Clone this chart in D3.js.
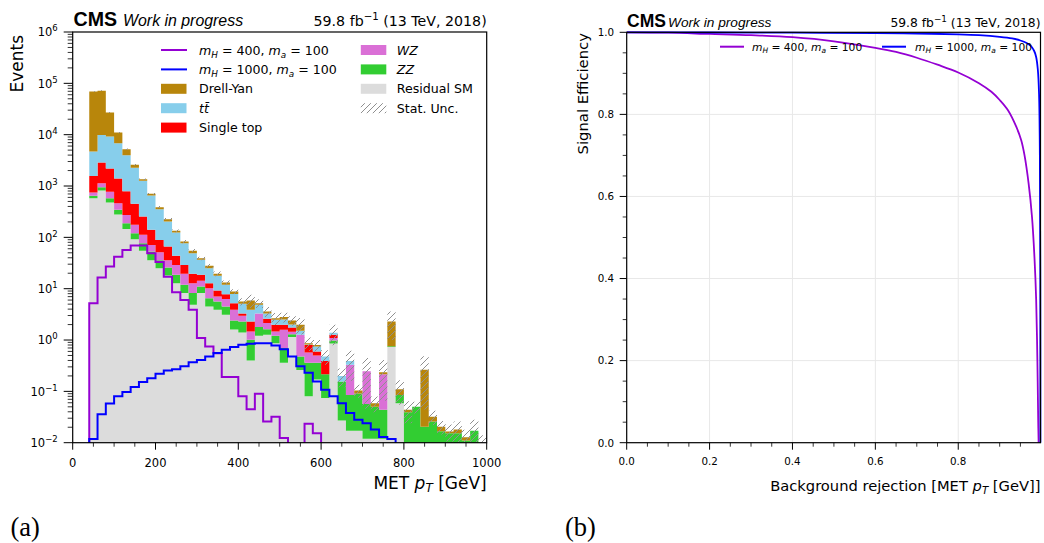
<!DOCTYPE html>
<html>
<head>
<meta charset="utf-8">
<script src="https://cdn.jsdelivr.net/npm/d3@7"></script>
<style>
  body { margin: 0; background: #fff; }
  svg { display: block; }
  text { font-family: "DejaVu Sans", sans-serif; fill: #000; }
</style>
</head>
<body>
<svg id="fig" width="1044" height="543"></svg>
<script>
// ---------------- MET pT histogram (20 GeV bins, 40-1000 GeV) ----------------
const binEdges = [40, 60, 80, 100, 120, 140, 160, 180, 200, 220, 240, 260, 280, 300, 320, 340,
  360, 380, 400, 420, 440, 460, 480, 500, 520, 540, 560, 580, 600, 620, 640, 660, 680, 700,
  720, 740, 760, 780, 800, 820, 840, 860, 880, 900, 920, 940, 960, 980, 1000];

// background processes, events per bin (stacked bottom -> top)
const residualSM = [580, 816, 477, 278, 146, 92, 55, 36, 25, 18, 12.8, 8.2, 4.85, 8.2, 4.5, 3.9,
  3.1, 1.6, 1.4, 0.4, 1.21, 1.26, 0.87, 0.36, 1.15, 0.26, 0.08, 0.17, 0.074, 0.86, 0.027, 0.017,
  0.017, 0.012, 0.012, 0.012, 0.73, 0.059, 0, 0, 0, 0, 0, 0, 0, 0, 0, 0];
const zz = [63, 133, 103, 65, 43, 28, 22, 17, 11, 8, 5.8, 3.7, 3.35, 2.8, 2.0, 1.7,
  1.4, 0.8, 0.9, 0.61, 0.58, 0.37, 0.34, 0.34, 0.15, 0.22, 0.28, 0.19, 0.141, 0.12, 0.129, 0.068,
  0.074, 0.045, 0.038, 0.032, 0.03, 0.026, 0.039, 0.05, 0.0204, 0.026, 0.0168, 0.0153, 0.0153, 0.011, 0.017, 0.008];
const wz = [102, 181, 189, 119, 85, 55, 35, 18, 15, 10, 10.4, 7.6, 4.6, 3.2, 3.7, 1.45,
  1.8, 1.5, 0.67, 0.46, 1.51, 0.51, 0.26, 0.88, 0.15, 0.79, 0.21, 0.14, 0, 0.12, 0, 0.245,
  0, 0.189, 0, 0.171, 0, 0, 0, 0, 0, 0, 0, 0, 0, 0, 0, 0];
const singleTop = [825, 1730, 1431, 938, 519, 274, 142, 69, 38, 30, 15, 9.5, 6.7, 4.4, 2.6, 2.15,
  1.5, 1.3, 0.33, 0.83, 0, 0.46, 0.51, 0.4, 0.3, 0, 0.23, 0.1, 0.175, 0.17, 0, 0,
  0, 0, 0, 0, 0, 0, 0, 0, 0, 0, 0, 0, 0, 0, 0, 0];
const ttbar = [3130, 7040, 7000, 5400, 3187, 1831, 1006, 511, 265, 137, 80, 48, 29.5, 17.9, 12.2, 8.6,
  4.1, 2.7, 1.8, 1.6, 1.55, 0.7, 0.5, 0.52, 0.25, 0.24, 0.02, 0.15, 0.09, 0.12, 0.044, 0.06,
  0, 0, 0, 0, 0, 0, 0, 0, 0, 0, 0, 0, 0, 0, 0, 0];
const drellYan = [64300, 62100, 17800, 4200, 1220, 320, 100, 52, 33, 23, 10, 6, 6, 2.5, 2.9, 1.7,
  1.3, 0.9, 0.5, 2.0, 0.35, 0.3, 0.19, 0.3, 0.4, 0.47, 0.05, 0.05, 0, 0, 0, 0,
  0.013, 0, 0.009, 0.021, 1.54, 0.025, 0.005, 0, 0.244, 0.006, 0.0036, 0.0013, 0.0027, 0.0018, 0, 0];
// statistical uncertainty on the total background
const statUnc = [900, 1000, 600, 300, 150, 80, 45, 25, 19, 11, 8, 6, 4, 3, 2.2, 2,
  1.3, 0.9, 0.9, 1.7, 1.0, 0.8, 0.7, 0.6, 0.5, 0.7, 0.25, 0.2, 0.15, 0.6, 0.08, 0.23,
  0.03, 0.2, 0.02, 0.17, 1.3, 0.055, 0.02, 0.013, 0.22, 0.01, 0.006, 0.006, 0.008, 0.005, 0.011, 0.006];

// signal hypotheses
const signalH400 = [5.2, 16.5, 27, 42, 57, 69, 69, 49, 33, 17, 8.5, 6.0, 3.9, 1.1, 0.75, 0.55,
  0.19, 0.19, 0.08, 0.045, 0.09, 0.026, 0.032, 0.0124, 0, 0, 0.0235, 0.0153, 0, 0, 0, 0,
  0, 0, 0, 0, 0, 0, 0, 0, 0, 0, 0, 0, 0, 0, 0, 0];
const signalH1000 = [0.0118, 0.036, 0.058, 0.080, 0.097, 0.121, 0.152, 0.18, 0.22, 0.256, 0.27, 0.31, 0.37, 0.41, 0.48, 0.56,
  0.65, 0.73, 0.81, 0.85, 0.87, 0.87, 0.78, 0.66, 0.48, 0.31, 0.23, 0.156, 0.108, 0.08, 0.059, 0.038,
  0.028, 0.024, 0.018, 0.0129, 0.0118, 0, 0, 0, 0, 0, 0, 0, 0, 0, 0, 0];

const xTicksMET = [0, 200, 400, 600, 800, 1000];
const yDecades = [-2, -1, 0, 1, 2, 3, 4, 5, 6];

// ---------------- signal efficiency vs background rejection ----------------
const rocRejH400 = [0, 0.1, 0.2, 0.3, 0.4, 0.5, 0.6, 0.65, 0.7, 0.75, 0.8, 0.85, 0.88, 0.9, 0.92,
  0.94, 0.952, 0.96, 0.97, 0.978, 0.984, 0.988, 0.991, 0.993, 0.994];
const rocEffH400 = [1.0, 0.999, 0.996, 0.993, 0.988, 0.978, 0.962, 0.952, 0.938, 0.921, 0.902, 0.876, 0.855, 0.835, 0.81,
  0.77, 0.737, 0.70, 0.63, 0.55, 0.45, 0.35, 0.2, 0.05, 0.0];
const rocRejH1000 = [0, 0.2, 0.4, 0.6, 0.7, 0.8, 0.85, 0.9, 0.93, 0.95, 0.965, 0.975, 0.983, 0.988,
  0.992, 0.995, 0.997, 0.998, 0.9983];
const rocEffH1000 = [1.0, 0.9995, 0.999, 0.998, 0.997, 0.995, 0.993, 0.989, 0.985, 0.98, 0.974, 0.967, 0.955, 0.94,
  0.91, 0.85, 0.7, 0.4, 0.0];
const rocTicks = [0, 0.2, 0.4, 0.6, 0.8];
const effTicks = [0, 0.2, 0.4, 0.6, 0.8, 1.0];

// ---------------- styling ----------------
const COLORS = {
  residual: "#dcdcdc", zz: "#32cd32", wz: "#da70d6", st: "#ff0000", tt: "#87ceeb", dy: "#b8860b",
  h400: "#9400d3", h1000: "#0000ff"
};

const svg = d3.select("#fig");
const defs = svg.append("defs");

// diagonal hatch for the statistical uncertainty band
const hatch = defs.append("pattern").attr("id", "hatch")
  .attr("patternUnits", "userSpaceOnUse").attr("width", 6).attr("height", 6);
hatch.append("path").attr("d", "M-1,1 l2,-2 M0,6 l6,-6 M5,7 l2,-2")
  .attr("stroke", "#8f8f8f").attr("stroke-width", 1);

// ================= panel (a) =================
const A = { x0: 72.7, x1: 486.7, y0: 32, y1: 442.7 };
const xA = d3.scaleLinear().domain([0, 1000]).range([A.x0, A.x1]);
const yA = d3.scaleLog().domain([1e-2, 1e6]).range([A.y1, A.y0]);
const FLOOR = 1e-6;
const nBins = binEdges.length - 1;

defs.append("clipPath").attr("id", "clipA").append("rect")
  .attr("x", A.x0).attr("y", A.y0).attr("width", A.x1 - A.x0).attr("height", A.y1 - A.y0);

const gA = svg.append("g");
const plotA = gA.append("g").attr("clip-path", "url(#clipA)");

const stepArea = d3.area().curve(d3.curveStepAfter)
  .x(d => xA(d.x))
  .y0(d => yA(Math.max(d.lo, FLOOR)))
  .y1(d => yA(Math.max(d.hi, FLOOR)));

const layers = [
  { values: residualSM, color: COLORS.residual },
  { values: zz, color: COLORS.zz },
  { values: wz, color: COLORS.wz },
  { values: singleTop, color: COLORS.st },
  { values: ttbar, color: COLORS.tt },
  { values: drellYan, color: COLORS.dy }
];

let base = new Array(nBins).fill(0);
layers.forEach(layer => {
  const top = base.map((b, i) => b + layer.values[i]);
  const pts = binEdges.map((e, i) => {
    const k = Math.min(i, nBins - 1);
    return { x: e, lo: base[k], hi: top[k] };
  });
  plotA.append("path").attr("d", stepArea(pts)).attr("fill", layer.color);
  base = top;
});
const totalBkg = base;

// uncertainty band
const uncPts = binEdges.map((e, i) => {
  const k = Math.min(i, nBins - 1);
  return { x: e, lo: totalBkg[k] - statUnc[k], hi: totalBkg[k] + statUnc[k] };
});
plotA.append("path").attr("d", stepArea(uncPts)).attr("fill", "url(#hatch)");

// signal step lines
const stepLine = d3.line().curve(d3.curveStepAfter)
  .x(d => xA(d.x)).y(d => yA(Math.max(d.v, FLOOR)));
function signalPoints(vals) {
  const p = [{ x: binEdges[0], v: 0 }];
  binEdges.forEach((e, i) => p.push({ x: e, v: vals[Math.min(i, nBins - 1)] }));
  return p;
}
[[signalH400, COLORS.h400], [signalH1000, COLORS.h1000]].forEach(([vals, c]) => {
  plotA.append("path").attr("d", stepLine(signalPoints(vals)))
    .attr("fill", "none").attr("stroke", c).attr("stroke-width", 2);
});

// frame
gA.append("rect").attr("x", A.x0).attr("y", A.y0).attr("width", A.x1 - A.x0).attr("height", A.y1 - A.y0)
  .attr("fill", "none").attr("stroke", "#000").attr("stroke-width", 1.2);

// x ticks
const MAJ = 7, MIN = 4;
xTicksMET.forEach(t => {
  gA.append("line").attr("x1", xA(t)).attr("x2", xA(t)).attr("y1", A.y1).attr("y2", A.y1 + MAJ)
    .attr("stroke", "#000").attr("stroke-width", 1);
  gA.append("text").attr("x", xA(t)).attr("y", A.y1 + 24.5).attr("text-anchor", "middle")
    .attr("font-size", 11.5).text(t);
});
[50, 100, 150, 250, 300, 350, 450, 500, 550, 650, 700, 750, 850, 900, 950].forEach(t => {
  gA.append("line").attr("x1", xA(t)).attr("x2", xA(t)).attr("y1", A.y1).attr("y2", A.y1 + MIN)
    .attr("stroke", "#000").attr("stroke-width", 0.8);
});

// y ticks (log)
yDecades.forEach(k => {
  const y = yA(Math.pow(10, k));
  gA.append("line").attr("x1", A.x0 - MAJ - 2).attr("x2", A.x0).attr("y1", y).attr("y2", y)
    .attr("stroke", "#000").attr("stroke-width", 1);
  const t = gA.append("text").attr("x", A.x0 - 15).attr("y", y + 4.3).attr("text-anchor", "end")
    .attr("font-size", 11.5);
  t.append("tspan").text("10");
  t.append("tspan").attr("dy", -5).attr("font-size", 8.5).text(String(k).replace("-", "\u2212"));
  if (k < 6) {
    for (let m = 2; m <= 9; m++) {
      const ym = yA(m * Math.pow(10, k));
      gA.append("line").attr("x1", A.x0 - MIN - 1).attr("x2", A.x0).attr("y1", ym).attr("y2", ym)
        .attr("stroke", "#000").attr("stroke-width", 0.8);
    }
  }
});

// axis titles
const xTitleA = gA.append("text").attr("x", A.x1).attr("y", 488.5).attr("text-anchor", "end").attr("font-size", 17);
xTitleA.append("tspan").text("MET ");
xTitleA.append("tspan").attr("font-style", "italic").text("p");
xTitleA.append("tspan").attr("font-size", 12).attr("font-style", "italic").attr("dy", 3.5).text("T");
xTitleA.append("tspan").attr("dy", -3.5).text(" [GeV]");

gA.append("text").attr("transform", "translate(23,35) rotate(-90)").attr("text-anchor", "end")
  .attr("font-size", 17).text("Events");

// header
function header(g, xLeft, xRight, base, s) {
  g.append("text").attr("x", xLeft).attr("y", base)
    .style("font-family", "'Liberation Sans', Arial, sans-serif").attr("font-weight", "bold")
    .attr("font-size", s.cms).text("CMS");
  g.append("text").attr("x", xLeft + s.gap).attr("y", base)
    .style("font-family", "'Liberation Sans', Arial, sans-serif").attr("font-style", "italic")
    .attr("font-size", s.wip).text("Work in progress");
  const lumi = g.append("text").attr("x", xRight).attr("y", base).attr("text-anchor", "end")
    .attr("font-size", s.lumi);
  lumi.append("tspan").text("59.8 fb");
  lumi.append("tspan").attr("dy", -s.lumi * 0.42).attr("font-size", s.lumi * 0.72).text("\u22121");
  lumi.append("tspan").attr("dy", s.lumi * 0.42).text(" (13 TeV, 2018)");
}
header(gA, 73.5, A.x1, 26.3, { cms: 19.6, wip: 15.9, lumi: 14.2, gap: 49.5 });

// legend
function mathLabel(sel, mass, fs) {
  sel.append("tspan").attr("font-style", "italic").text("m");
  sel.append("tspan").attr("font-size", fs * 0.7).attr("font-style", "italic").attr("dy", fs * 0.25).text("H");
  sel.append("tspan").attr("dy", -fs * 0.25).text(` = ${mass}, `);
  sel.append("tspan").attr("font-style", "italic").text("m");
  sel.append("tspan").attr("font-size", fs * 0.7).attr("font-style", "italic").attr("dy", fs * 0.25).text("a");
  sel.append("tspan").attr("dy", -fs * 0.25).text(" = 100");
}
const LFS = 12.6;
const legendA = [
  { col: 0, row: 0, kind: "line", color: COLORS.h400, label: s => mathLabel(s, 400, LFS) },
  { col: 0, row: 1, kind: "line", color: COLORS.h1000, label: s => mathLabel(s, 1000, LFS) },
  { col: 0, row: 2, kind: "patch", color: COLORS.dy, label: s => s.text("Drell-Yan") },
  { col: 0, row: 3, kind: "patch", color: COLORS.tt, label: s => s.append("tspan").attr("font-style", "italic").text("t\u0074\u0304") },
  { col: 0, row: 4, kind: "patch", color: COLORS.st, label: s => s.text("Single top") },
  { col: 1, row: 0, kind: "patch", color: COLORS.wz, label: s => s.append("tspan").attr("font-style", "italic").text("WZ") },
  { col: 1, row: 1, kind: "patch", color: COLORS.zz, label: s => s.append("tspan").attr("font-style", "italic").text("ZZ") },
  { col: 1, row: 2, kind: "patch", color: COLORS.residual, label: s => s.text("Residual SM") },
  { col: 1, row: 3, kind: "patch", color: "url(#hatch)", label: s => s.text("Stat. Unc.") }
];
const legColX = [161, 360.8], legTextX = [199, 396.8];
legendA.forEach(e => {
  const yc = 50 + e.row * 19.4;
  const x = legColX[e.col];
  if (e.kind === "line") {
    gA.append("line").attr("x1", x).attr("x2", x + 26).attr("y1", yc).attr("y2", yc)
      .attr("stroke", e.color).attr("stroke-width", 2);
  } else {
    gA.append("rect").attr("x", x).attr("y", yc - 5).attr("width", 25.5).attr("height", 10)
      .attr("fill", e.color);
  }
  const t = gA.append("text").attr("x", legTextX[e.col]).attr("y", yc + 4.6).attr("font-size", LFS);
  e.label(t);
});

svg.append("text").attr("x", 10.5).attr("y", 536).style("font-family", "'Liberation Serif', serif")
  .attr("font-size", 26.5).text("(a)");

// ================= panel (b) =================
const B = { x0: 626.7, x1: 1040.5, y0: 32.3, y1: 442.7 };
const xB = d3.scaleLinear().domain([0, 0.9985]).range([B.x0, B.x1]);
const yB = d3.scaleLinear().domain([0, 1]).range([B.y1, B.y0]);
const gB = svg.append("g");

// grid
rocTicks.slice(1).forEach(t => {
  gB.append("line").attr("x1", xB(t)).attr("x2", xB(t)).attr("y1", B.y0).attr("y2", B.y1)
    .attr("stroke", "#e8e8e8").attr("stroke-width", 1);
});
effTicks.slice(1, -1).forEach(t => {
  gB.append("line").attr("x1", B.x0).attr("x2", B.x1).attr("y1", yB(t)).attr("y2", yB(t))
    .attr("stroke", "#e8e8e8").attr("stroke-width", 1);
});

defs.append("clipPath").attr("id", "clipB").append("rect")
  .attr("x", B.x0).attr("y", B.y0 - 2).attr("width", B.x1 - B.x0 + 2).attr("height", B.y1 - B.y0 + 2);
const plotB = gB.append("g").attr("clip-path", "url(#clipB)");
const rocLine = d3.line().curve(d3.curveCatmullRom.alpha(0.5)).x(d => xB(d[0])).y(d => yB(d[1]));
[[rocRejH400, rocEffH400, COLORS.h400], [rocRejH1000, rocEffH1000, COLORS.h1000]].forEach(([xs, ys, c]) => {
  plotB.append("path").attr("d", rocLine(xs.map((v, i) => [v, ys[i]])))
    .attr("fill", "none").attr("stroke", c).attr("stroke-width", 1.8);
});

gB.append("rect").attr("x", B.x0).attr("y", B.y0).attr("width", B.x1 - B.x0).attr("height", B.y1 - B.y0)
  .attr("fill", "none").attr("stroke", "#000").attr("stroke-width", 1.2);

rocTicks.forEach(t => {
  gB.append("line").attr("x1", xB(t)).attr("x2", xB(t)).attr("y1", B.y1).attr("y2", B.y1 + 7)
    .attr("stroke", "#000").attr("stroke-width", 1);
  gB.append("text").attr("x", xB(t)).attr("y", B.y1 + 21.8).attr("text-anchor", "middle")
    .attr("font-size", 10.3).text(t.toFixed(1));
});
const minorFractions = [0.05, 0.1, 0.15, 0.25, 0.3, 0.35, 0.45, 0.5, 0.55, 0.65, 0.7, 0.75, 0.85, 0.9, 0.95];
minorFractions.forEach(t => {
  gB.append("line").attr("x1", xB(t)).attr("x2", xB(t)).attr("y1", B.y1).attr("y2", B.y1 + 4)
    .attr("stroke", "#000").attr("stroke-width", 0.8);
});
effTicks.forEach(t => {
  gB.append("line").attr("x1", B.x0 - 7).attr("x2", B.x0).attr("y1", yB(t)).attr("y2", yB(t))
    .attr("stroke", "#000").attr("stroke-width", 1);
  gB.append("text").attr("x", B.x0 - 12.5).attr("y", yB(t) + 3.8).attr("text-anchor", "end")
    .attr("font-size", 10.3).text(t.toFixed(1));
});
minorFractions.forEach(t => {
  gB.append("line").attr("x1", B.x0 - 4).attr("x2", B.x0).attr("y1", yB(t)).attr("y2", yB(t))
    .attr("stroke", "#000").attr("stroke-width", 0.8);
});

const xTitleB = gB.append("text").attr("x", B.x1).attr("y", 490.5).attr("text-anchor", "end").attr("font-size", 14.7);
xTitleB.append("tspan").text("Background rejection [MET ");
xTitleB.append("tspan").attr("font-style", "italic").text("p");
xTitleB.append("tspan").attr("font-size", 10.3).attr("font-style", "italic").attr("dy", 3).text("T");
xTitleB.append("tspan").attr("dy", -3).text(" [GeV]]");

gB.append("text").attr("transform", "translate(588,33) rotate(-90)").attr("text-anchor", "end")
  .attr("font-size", 14.8).text("Signal Efficiency");

header(gB, 627, B.x1, 27, { cms: 17.5, wip: 13.7, lumi: 12.3, gap: 41 });

const RFS = 10.7;
[[720, 752, COLORS.h400, 400], [882, 915, COLORS.h1000, 1000]].forEach(([lx, tx, c, mass]) => {
  gB.append("line").attr("x1", lx).attr("x2", lx + 24).attr("y1", 46.7).attr("y2", 46.7)
    .attr("stroke", c).attr("stroke-width", 2);
  const t = gB.append("text").attr("x", tx).attr("y", 50.5).attr("font-size", RFS);
  mathLabel(t, mass, RFS);
});

svg.append("text").attr("x", 565).attr("y", 536).style("font-family", "'Liberation Serif', serif")
  .attr("font-size", 26.5).text("(b)");
</script>
</body>
</html>
